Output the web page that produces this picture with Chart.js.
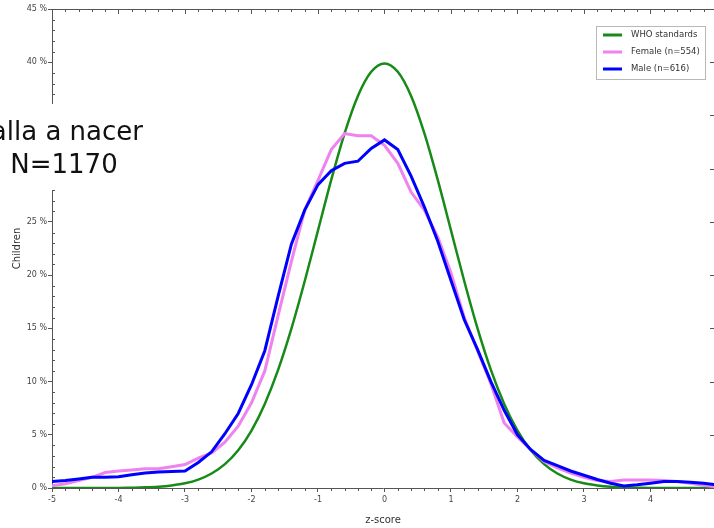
<!DOCTYPE html>
<html><head><meta charset="utf-8">
<script src="https://cdn.jsdelivr.net/npm/chart.js@4"></script>
<style>html,body{margin:0;padding:0;background:#fff;}canvas{display:block;}</style>
</head><body>
<canvas id="c" width="714" height="528"></canvas>
<script>
// ---- data ----
const zScores = [-5,-4.8,-4.6,-4.4,-4.2,-4,-3.8,-3.6,-3.4,-3.2,-3,-2.8,-2.6,-2.4,-2.2,-2,-1.8,-1.6,-1.4,-1.2,-1,-0.8,-0.6,-0.4,-0.2,0,0.2,0.4,0.6,0.8,1,1.2,1.4,1.6,1.8,2,2.2,2.4,2.6,2.8,3,3.2,3.4,3.6,3.8,4,4.2,4.4,4.6,4.8,5];
const whoStandards = [0,0,0,0.01,0.01,0.01,0.03,0.06,0.12,0.24,0.44,0.79,1.36,2.24,3.55,5.40,7.90,11.09,14.97,19.42,24.20,28.97,33.32,36.83,39.10,39.89,39.10,36.83,33.32,28.97,24.20,19.42,14.97,11.09,7.90,5.40,3.55,2.24,1.36,0.79,0.44,0.24,0.12,0.06,0.03,0.01,0.01,0.01,0,0,0];
const femaleValues = [0.2,0.4,0.7,1.0,1.45,1.6,1.7,1.8,1.8,2.0,2.2,2.8,3.3,4.3,5.8,8.0,11.0,16.2,21.3,26.1,28.9,31.8,33.3,33.1,33.1,32.2,30.5,27.8,26.1,23.6,20.2,16.0,12.9,9.8,6.1,4.8,3.6,2.5,1.9,1.4,1.0,0.7,0.6,0.75,0.75,0.75,0.7,0.6,0.45,0.25,0.1];
const maleValues = [0.6,0.7,0.85,1.0,1.0,1.05,1.25,1.4,1.5,1.55,1.6,2.4,3.4,5.1,7.0,9.7,12.9,18.0,22.9,26.1,28.5,29.8,30.5,30.7,31.9,32.7,31.8,29.3,26.4,23.2,19.5,15.8,13.0,10.0,7.3,5.0,3.6,2.6,2.1,1.6,1.2,0.8,0.45,0.2,0.3,0.45,0.6,0.6,0.55,0.45,0.3];
const xTickValues = [-5,-4,-3,-2,-1,0,1,2,3,4];
const yTickValues = [0,5,10,15,20,25,30,35,40,45];
const seriesLabels = ['WHO standards','Female (n=554)','Male (n=616)'];
const seriesColors = ['#178a17','#ee82ee','#0000ff'];
const overlayLines = ['Talla a nacer','N=1170'];
const xTitle = 'z-score';
const yTitle = 'Children';

const axisColor = '#555';
const tickFont = {family:'"DejaVu Sans"', size:8};

function pts(vals){ return zScores.map((z,i)=>({x:z,y:vals[i]})); }

const framePlugin = {
  id:'frame',
  afterDraw(chart){
    const {ctx, chartArea:a, scales:{x,y}} = chart;
    ctx.save();
    ctx.strokeStyle = axisColor; ctx.lineWidth = 1;
    ctx.beginPath();
    ctx.moveTo(a.left, a.top+0.5); ctx.lineTo(a.right, a.top+0.5);
    for (let i=-25;i<=25;i++){
      const v = i/5;
      const px = Math.round(x.getPixelForValue(v))+0.5;
      if (px > a.right+0.5) continue;
      const major = (i%5===0);
      ctx.moveTo(px, a.top); ctx.lineTo(px, a.top + (major?5:3));
      if (!major){ ctx.moveTo(px, a.bottom); ctx.lineTo(px, a.bottom+3); }
    }
    for (let v=0; v<=45; v++){
      const py = Math.round(y.getPixelForValue(v))+0.5;
      const major = (v%5===0);
      if (!major){ ctx.moveTo(a.left, py); ctx.lineTo(a.left+3, py); }
      else { ctx.moveTo(a.right-4, py); ctx.lineTo(a.right, py); }
    }
    ctx.stroke();

    // legend
    const lx = 596.5, ly = 26.5, lw = 109, lh = 53;
    ctx.fillStyle = '#fff'; ctx.fillRect(lx, ly, lw, lh);
    ctx.strokeStyle = '#b8b8b8'; ctx.strokeRect(lx, ly, lw, lh);
    ctx.font = '8.5px "DejaVu Sans"'; ctx.textBaseline = 'middle'; ctx.textAlign = 'left';
    chart.data.datasets.forEach((ds,i)=>{
      const ry = 35 + i*17;
      ctx.strokeStyle = ds.borderColor; ctx.lineWidth = 3;
      ctx.beginPath(); ctx.moveTo(603, ry); ctx.lineTo(622, ry); ctx.stroke();
      ctx.fillStyle = '#333'; ctx.fillText(ds.label, 631, ry);
    });

    // overlay text
    ctx.fillStyle = '#fff'; ctx.fillRect(0, 104, 150, 86);
    ctx.fillStyle = '#111'; ctx.font = '26px "DejaVu Sans"'; ctx.textBaseline = 'alphabetic';
    ctx.textAlign = 'right'; ctx.fillText(overlayLines[0], 143, 140);
    ctx.textAlign = 'center'; ctx.fillText(overlayLines[1], 64, 173);
    ctx.restore();
  }
};

new Chart(document.getElementById('c'), {
  type:'line',
  data:{
    datasets:[
      {label:seriesLabels[0], data:pts(whoStandards), borderColor:seriesColors[0], borderWidth:2.5, pointRadius:0, cubicInterpolationMode:'monotone', fill:false, order:2},
      {label:seriesLabels[1], data:pts(femaleValues), borderColor:seriesColors[1], borderWidth:3, pointRadius:0, tension:0, fill:false, order:1},
      {label:seriesLabels[2], data:pts(maleValues), borderColor:seriesColors[2], borderWidth:3, pointRadius:0, tension:0, fill:false, order:0}
    ]
  },
  options:{
    responsive:false, animation:false,
    layout:{padding:{top:9,right:0,left:0,bottom:0}},
    plugins:{legend:{display:false}, tooltip:{enabled:false}},
    scales:{
      x:{
        type:'linear', min:-5, max:4.955,
        afterBuildTicks(s){ s.ticks = xTickValues.map(v=>({value:v})); },
        afterFit(s){ s.height = 40; },
        ticks:{font:tickFont, color:'#444', padding:3, maxRotation:0, autoSkip:false, callback:v=>String(v)},
        grid:{drawOnChartArea:false, tickLength:4, color:axisColor, tickColor:axisColor},
        border:{display:true, color:axisColor},
        title:{display:true, text:xTitle, font:{family:'"DejaVu Sans"', size:10}, color:'#333', padding:{top:0,bottom:2}}
      },
      y:{
        type:'linear', min:0, max:45,
        afterBuildTicks(s){ s.ticks = yTickValues.map(v=>({value:v})); },
        afterFit(s){ s.width = 52; },
        ticks:{font:tickFont, color:'#444', padding:1, autoSkip:false, callback:v=>v+' %'},
        grid:{drawOnChartArea:false, tickLength:4, color:axisColor, tickColor:axisColor},
        border:{display:true, color:axisColor},
        title:{display:true, text:yTitle, font:{family:'"DejaVu Sans"', size:10}, color:'#333', padding:{top:11,bottom:0}}
      }
    }
  },
  plugins:[framePlugin]
});
</script>
</body></html>
